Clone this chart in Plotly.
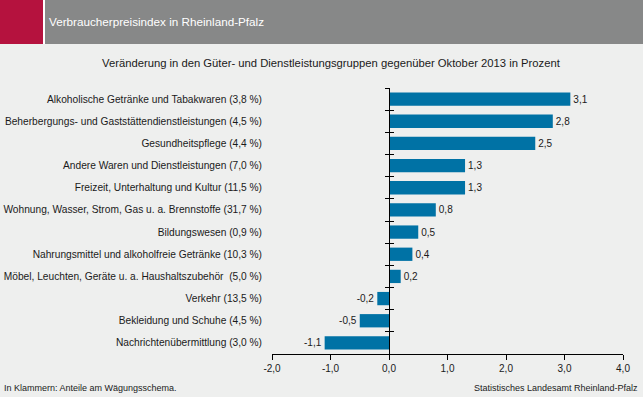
import plotly.graph_objects as go

categories = [
    "Alkoholische Getränke und Tabakwaren (3,8 %)",
    "Beherbergungs- und Gaststättendienstleistungen (4,5 %)",
    "Gesundheitspflege (4,4 %)",
    "Andere Waren und Dienstleistungen (7,0 %)",
    "Freizeit, Unterhaltung und Kultur (11,5 %)",
    "Wohnung, Wasser, Strom, Gas u. a. Brennstoffe (31,7 %)",
    "Bildungswesen (0,9 %)",
    "Nahrungsmittel und alkoholfreie Getränke (10,3 %)",
    "Möbel, Leuchten, Geräte u. a. Haushaltszubehör  (5,0 %)",
    "Verkehr (13,5 %)",
    "Bekleidung und Schuhe (4,5 %)",
    "Nachrichtenübermittlung (3,0 %)",
]
values = [3.1, 2.8, 2.5, 1.3, 1.3, 0.8, 0.5, 0.4, 0.2, -0.2, -0.5, -1.1]
tick_vals = [-2, -1, 0, 1, 2, 3, 4]
tick_labels = ["-2,0", "-1,0", "0,0", "1,0", "2,0", "3,0", "4,0"]
bar_labels = [f"{v:.1f}".replace(".", ",") for v in values]

W, H = 643, 397
L, R, T, B = 272, 20, 88, 43
pw, ph = W - L - R, H - T - B

def px(x):
    return (x - L) / pw

def py(y):
    return (H - B - y) / ph

BG = "#eeefee"
BAR = "#0072a5"
FONT = "Liberation Sans, Arial, sans-serif"

fig = go.Figure()
fig.add_trace(go.Bar(
    x=values, y=categories, orientation="h",
    marker=dict(color=BAR, line=dict(width=0)),
    width=0.6,
    text=bar_labels, textposition="outside", cliponaxis=False,
    textfont=dict(size=10, color="#1a1a1a", family=FONT),
    hoverinfo="skip",
))
for ax in ("y2", "y3"):
    fig.add_trace(go.Scatter(
        x=[0] * len(categories), y=categories, yaxis=ax,
        mode="markers", marker=dict(opacity=0), hoverinfo="skip", showlegend=False,
    ))

x0_pos = (0 - tick_vals[0]) / (tick_vals[-1] - tick_vals[0])
n = len(categories)
yrange = [n - 0.5, -0.5]

def zero_axis(tickdir):
    return dict(
        type="category", categoryorder="array", categoryarray=categories,
        overlaying="y", range=yrange, autorange=False, anchor="free", position=x0_pos,
        showticklabels=False, showgrid=False, zeroline=False, automargin=False,
        showline=True, linecolor="#000000", linewidth=1,
        ticks=tickdir, ticklen=4, tickcolor="#000000", tickson="boundaries",
    )

fig.update_layout(
    template="none",
    width=W, height=H,
    margin=dict(l=L, r=R, t=T, b=B, pad=0, autoexpand=False),
    paper_bgcolor=BG, plot_bgcolor=BG,
    showlegend=False,
    font=dict(family=FONT, size=10, color="#1a1a1a"),
    xaxis=dict(
        range=[-2, 4], tickvals=tick_vals, ticktext=tick_labels,
        showgrid=False, zeroline=False, showline=True, linecolor="#000000",
        linewidth=1, ticks="outside", ticklen=5, tickcolor="#000000",
        tickfont=dict(size=10, color="#1a1a1a"), automargin=False,
        fixedrange=True,
    ),
    yaxis=dict(
        type="category", categoryorder="array", categoryarray=categories,
        range=yrange, autorange=False, showgrid=False, zeroline=False, showline=False,
        ticks="", ticklabelstandoff=9, automargin=False,
        tickfont=dict(size=10.2, color="#1a1a1a"),
    ),
    yaxis2=zero_axis("outside"),
    yaxis3=zero_axis("inside"),
    bargap=0.4,
)

shapes = [
    dict(type="rect", xref="paper", yref="paper", x0=px(0), x1=px(43),
         y0=py(44), y1=py(0), fillcolor="#b5123e", line=dict(width=0), layer="below"),
    dict(type="rect", xref="paper", yref="paper", x0=px(43), x1=px(45),
         y0=py(44), y1=py(0), fillcolor="#ffffff", line=dict(width=0), layer="below"),
    dict(type="rect", xref="paper", yref="paper", x0=px(45), x1=px(643),
         y0=py(44), y1=py(0), fillcolor="#878888", line=dict(width=0), layer="below"),
]
fig.update_layout(shapes=shapes)

annotations = [
    dict(text="Verbraucherpreisindex in Rheinland-Pfalz", x=px(47), y=py(22),
         xanchor="left", yanchor="middle", font=dict(size=11.7, color="#ffffff")),
    dict(text="Veränderung in den Güter- und Dienstleistungsgruppen gegenüber Oktober 2013 in Prozent",
         x=px(331), y=py(63), xanchor="center", yanchor="middle",
         font=dict(size=11.25, color="#1a1a1a")),
    dict(text="In Klammern: Anteile am Wägungsschema.", x=px(2), y=py(388),
         xanchor="left", yanchor="middle", font=dict(size=9, color="#1a1a1a")),
    dict(text="Statistisches Landesamt Rheinland-Pfalz", x=px(640), y=py(388),
         xanchor="right", yanchor="middle", font=dict(size=9, color="#1a1a1a")),
]
for a in annotations:
    a.update(xref="paper", yref="paper", showarrow=False)
fig.update_layout(annotations=annotations)

fig.write_html(
    "out.html",
    config={"displayModeBar": False},
    post_script="document.body.style.margin='0';document.body.style.overflow='hidden';",
)
